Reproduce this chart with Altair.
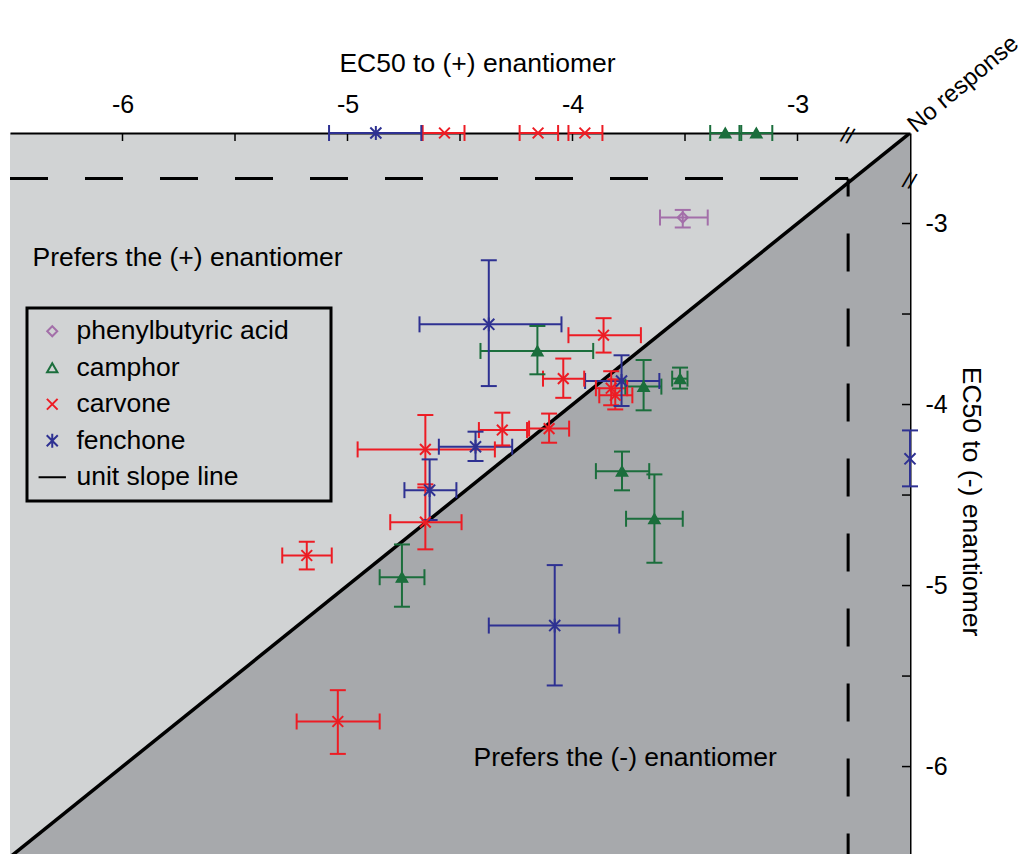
import altair as alt
import pandas as pd

FONT = "Liberation Sans"
LIGHT = "#d1d3d4"
DARK = "#a7a9ac"

NR = -2.5          # position used for "No response"
CUT_X = -2.775     # dashed threshold lines
CUT_Y = -2.751
Y_MIN = -6.483

compounds = ["phenylbutyric acid", "camphor", "carvone", "fenchone"]
legend_names = compounds + ["unit slope line"]
colors = ["#a36fa9", "#1b6e3c", "#ed1c24", "#2e3192", "#000000"]
shapes = ["diamond", "triangle-up", "M-1,-1L1,1M-1,1L1,-1",
          "M-1,-1L1,1M-1,1L1,-1M0,-1.25L0,1.25", "M-2.4,0L2.4,0"]
sizes = [100, 130, 121, 150, 100]

x_label_vals = [-6, -5, -4, -3]
y_label_vals = [-6, -5, -4, -3]
x_tick_vals = [-6, -5.5, -5, -4.5, -4, -3.5, -3]
y_tick_vals = [-6.5, -6, -5.5, -5, -4.5, -4, -3.5, -3]
unit_line = [-6.6, -2.5]
area_floor = [-6.6, -6.6]

# phenylbutyric acid
pba_x = [-3.510]; pba_xlo = [-3.611]; pba_xhi = [-3.399]
pba_y = [-2.967]; pba_ylo = [-3.022]; pba_yhi = [-2.925]

# camphor
cam_x = [-4.156, -3.684, -3.522, -3.780, -3.636, -4.758, -3.321, -3.183]
cam_xlo = [-4.409, -3.765, -3.557, -3.896, -3.762, -4.857, -3.388, -3.250]
cam_xhi = [-3.908, -3.605, -3.489, -3.659, -3.510, -4.658, -3.258, -3.112]
cam_y = [-3.704, -3.901, -3.857, -4.368, -4.631, -4.954, NR, NR]
cam_ylo = [-3.833, -4.032, -3.912, -4.474, -4.874, -5.117, None, None]
cam_yhi = [-3.566, -3.754, -3.796, -4.260, -4.386, -4.773, None, None]

# carvone
car_x = [-3.862, -4.041, -3.828, -3.810, -4.104, -4.312, -4.654, -4.654, -5.181, -5.043, -4.569, -4.153, -3.945]
car_xlo = [-4.018, -4.131, -3.896, -3.881, -4.193, -4.416, -4.955, -4.810, -5.290, -5.226, -4.666, -4.235, -4.018]
car_xhi = [-3.696, -3.948, -3.757, -3.734, -4.015, -4.202, -4.345, -4.493, -5.070, -4.857, -4.480, -4.064, -3.867]
car_y = [-3.617, -3.857, -3.910, -3.949, -4.133, -4.141, -4.248, -4.650, -4.834, -5.751, NR, NR, NR]
car_ylo = [-3.713, -3.963, -4.004, -4.027, -4.211, -4.226, -4.441, -4.800, -4.911, -5.930, None, None, None]
car_yhi = [-3.523, -3.746, -3.816, -3.861, -4.050, -4.045, -4.058, -4.458, -4.758, -5.578, None, None, None]

# fenchone
fen_x = [-4.372, -3.782, -4.431, -4.635, -4.079, -4.874, NR]
fen_xlo = [-4.680, -3.944, -4.594, -4.747, -4.372, -5.082, None]
fen_xhi = [-4.049, -3.614, -4.268, -4.516, -3.792, -4.672, None]
fen_y = [-3.557, -3.870, -4.233, -4.473, -5.221, NR, -4.300]
fen_ylo = [-3.898, -4.008, -4.312, -4.638, -5.552, None, -4.452]
fen_yhi = [-3.203, -3.728, -4.150, -4.303, -4.887, None, -4.143]

ann_text = ["Prefers the (+) enantiomer", "Prefers the (-) enantiomer"]
ann_x = [-6.40, -4.44]
ann_y = [-3.19, -5.95]

series = [
    ("phenylbutyric acid", pba_x, pba_xlo, pba_xhi, pba_y, pba_ylo, pba_yhi),
    ("camphor", cam_x, cam_xlo, cam_xhi, cam_y, cam_ylo, cam_yhi),
    ("carvone", car_x, car_xlo, car_xhi, car_y, car_ylo, car_yhi),
    ("fenchone", fen_x, fen_xlo, fen_xhi, fen_y, fen_ylo, fen_yhi),
]
color_of = dict(zip(legend_names, colors))
rows = []
for name, xs, xl, xh, ys, yl, yh in series:
    for i in range(len(xs)):
        rows.append(dict(compound=name, col=color_of[name], x=xs[i], xlo=xl[i], xhi=xh[i],
                         y=ys[i], ylo=yl[i], yhi=yh[i]))
df = pd.DataFrame(rows)

xscale = alt.Scale(domain=[-6.5, -2.5], nice=False, zero=False)
yscale = alt.Scale(domain=[Y_MIN, -2.5], nice=False, zero=False)
cscale = alt.Scale(domain=legend_names, range=colors)
sscale = alt.Scale(domain=legend_names, range=shapes)
zscale = alt.Scale(domain=legend_names, range=sizes)

TXT = 26.5

x_axis = alt.Axis(orient="top", values=x_label_vals, ticks=False, grid=False,
                  domain=True, domainColor="black", domainWidth=2,
                  labelFont=FONT, labelFontSize=25, labelColor="black", labelPadding=16,
                  labelExpr="'-' + abs(datum.value)",
                  title="EC50 to (+) enantiomer", titleFont=FONT, titleFontSize=TXT,
                  titleFontWeight="normal", titleColor="black", titlePadding=15, titleX=467)
y_axis = alt.Axis(orient="right", values=y_label_vals, ticks=False, grid=False,
                  domain=True, domainColor="black", domainWidth=2,
                  labelFont=FONT, labelFontSize=25, labelColor="black", labelPadding=15,
                  labelExpr="'-' + abs(datum.value)",
                  title="EC50 to (-) enantiomer", titleFont=FONT, titleFontSize=TXT,
                  titleFontWeight="normal", titleColor="black", titlePadding=9,
                  titleAngle=90, titleY=368)


def X(f):
    return alt.X(f + ":Q", scale=xscale)


def Y(f):
    return alt.Y(f + ":Q", scale=yscale)


diag_df = pd.DataFrame({"v": unit_line, "floor": area_floor})
bg = alt.Chart(diag_df).mark_area(color=DARK, clip=True, orient="vertical").encode(
    x=alt.X("v:Q", scale=xscale, axis=x_axis),
    y=alt.Y("v:Q", scale=yscale, axis=y_axis, stack=None),
    y2="floor:Q",
)

dash_h_df = pd.DataFrame({"x": [-6.5], "x2": [CUT_X], "y": [CUT_Y]})
dash_h = alt.Chart(dash_h_df).mark_rule(color="black", strokeWidth=3, strokeDash=[38, 37]).encode(
    x=X("x"), x2="x2:Q", y=Y("y"),
)
dash_v_df = pd.DataFrame({"x": [CUT_X], "y": [CUT_Y], "y2": [Y_MIN]})
dash_v = alt.Chart(dash_v_df).mark_rule(color="black", strokeWidth=3, strokeDash=[38, 37],
                                        strokeDashOffset=20).encode(
    x=X("x"), y=Y("y"), y2="y2:Q",
)

diag = alt.Chart(diag_df).mark_line(color="black", strokeWidth=3.5, clip=True).encode(
    x=X("v"), y=Y("v"),
)

tickx = alt.Chart(pd.DataFrame({"t": x_tick_vals})).mark_rule(color="black", strokeWidth=1.5).encode(
    x=X("t"), y=alt.value(0), y2=alt.value(8))
ticky = alt.Chart(pd.DataFrame({"t": y_tick_vals})).mark_rule(color="black", strokeWidth=1.5).encode(
    y=Y("t"), x=alt.value(892), x2=alt.value(900))

base = alt.Chart(df)
col = alt.Color("col:N", scale=None)

hv = base.transform_filter("isValid(datum.xlo)")
vv = base.transform_filter("isValid(datum.ylo)")
hbar = hv.mark_rule(strokeWidth=2).encode(x=X("xlo"), x2="xhi:Q", y=Y("y"), color=col)
hcap1 = hv.mark_tick(orient="vertical", size=16, thickness=2, opacity=1).encode(x=X("xlo"), y=Y("y"), color=col)
hcap2 = hv.mark_tick(orient="vertical", size=16, thickness=2, opacity=1).encode(x=X("xhi"), y=Y("y"), color=col)
vbar = vv.mark_rule(strokeWidth=2).encode(x=X("x"), y=Y("ylo"), y2="yhi:Q", color=col)
vcap1 = vv.mark_tick(orient="horizontal", size=16, thickness=2, opacity=1).encode(x=X("x"), y=Y("ylo"), color=col)
vcap2 = vv.mark_tick(orient="horizontal", size=16, thickness=2, opacity=1).encode(x=X("x"), y=Y("yhi"), color=col)

pad_txt = "\u2003\u2009\u200b"
leg = alt.Legend(title=None, orient="none", legendX=17, legendY=175,
                 labelFont=FONT, labelFontSize=TXT, labelColor="black", labelLimit=500,
                 symbolStrokeWidth=2, symbolSize=110, symbolFillColor="transparent",
                 strokeColor="black",
                 padding=10, rowPadding=9.5, labelOffset=11, symbolOffset=2,
                 labelExpr="datum.label == 'phenylbutyric acid' ? datum.label + '" + pad_txt + "' : datum.label")

pts = base.mark_point(filled=False, strokeWidth=2, opacity=1).encode(
    x=X("x"), y=Y("y"),
    color=alt.Color("compound:N", scale=cscale, legend=leg),
    shape=alt.Shape("compound:N", scale=sscale, legend=leg),
    size=alt.Size("compound:N", scale=zscale, legend=None),
)
cam_fill = base.transform_filter("datum.compound == 'camphor'").mark_point(
    shape="triangle-up", filled=True, size=130, color=colors[1], opacity=1).encode(x=X("x"), y=Y("y"))

ann_df = pd.DataFrame({"x": ann_x, "y": ann_y, "t": ann_text})
ann = alt.Chart(ann_df).mark_text(font=FONT, fontSize=TXT, align="left", baseline="middle", color="black").encode(
    x=X("x"), y=Y("y"), text="t:N")

nr_df = pd.DataFrame({"x": [NR], "y": [NR], "t": ["No response"]})
nr = alt.Chart(nr_df).mark_text(font=FONT, fontSize=24, align="left", baseline="alphabetic",
                                angle=320, dx=4, dy=4, color="black").encode(
    x=X("x"), y=Y("y"), text="t:N")

brk_df = pd.DataFrame({"x": [CUT_X, NR], "y": [NR, CUT_Y], "t": ["//", "//"]})
brk = alt.Chart(brk_df).mark_text(font=FONT, fontSize=22, align="center", baseline="middle",
                                  angle=15, dy=3, color="black").encode(
    x=X("x"), y=Y("y"), text="t:N")

chart = alt.layer(bg, dash_h, dash_v, diag, tickx, ticky,
                  hbar, hcap1, hcap2, vbar, vcap1, vcap2, pts, cam_fill, ann, nr, brk).properties(
    width=900, height=721,
    autosize=alt.AutoSizeParams(type="none"),
    padding={"left": 10, "top": 133, "right": 118, "bottom": 0},
    background="white",
).configure_view(stroke=None, fill=LIGHT).configure_legend(strokeWidth=3)

chart.save("out.html", embed_options={"renderer": "svg", "actions": False})
